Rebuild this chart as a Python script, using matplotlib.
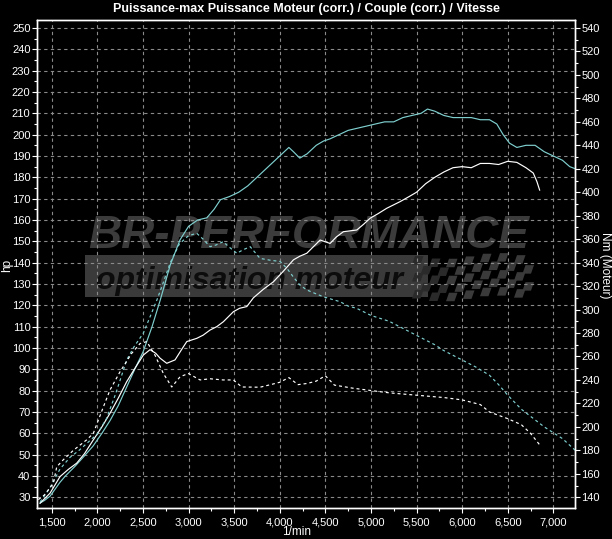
import numpy as np
import matplotlib
matplotlib.use("Agg")
import matplotlib.pyplot as plt
from matplotlib.patches import Polygon
from matplotlib.ticker import MultipleLocator, FuncFormatter

# figure size in pixels
W, H = 612, 539

# --- data ---
# run A (cyan): power in hp
rpm_pow_a = [1372, 1420, 1481, 1540, 1590, 1650, 1755, 1850, 1953, 2050, 2140, 2230, 2325, 2410,
             2500, 2600, 2690, 2800, 2907, 3000, 3100, 3200, 3280, 3350, 3450, 3550, 3650, 3750,
             3850, 3950, 4050, 4100, 4150, 4220, 4300, 4400, 4480, 4550, 4650, 4750, 4850, 4950,
             5050, 5150, 5250, 5350, 5450, 5550, 5620, 5700, 5800, 5900, 6000, 6100, 6200, 6300,
             6380, 6450, 6520, 6600, 6700, 6800, 6900, 7000, 7100, 7180, 7241]
hp_a = [27.3, 28.5, 30.5, 34, 37, 40, 44.5, 49, 54, 60, 66, 73, 82, 90,
        98, 110, 122.5, 139, 150.7, 157, 160, 161, 165, 169.5, 171, 173, 176, 180,
        184, 188, 192, 194, 192, 189, 191, 195, 197, 198, 200, 202, 203, 204,
        205, 206, 206, 208, 209, 210, 212, 211, 209, 208, 208, 208, 207, 207,
        205, 200, 196, 194, 195, 195, 192, 190, 188, 185, 184]

# run A (cyan dashed): torque in Nm
rpm_trq_a = [1372, 1480, 1590, 1700, 1800, 1900, 2000, 2100, 2200, 2322, 2400, 2505, 2600, 2652,
             2700, 2800, 2900, 3000, 3090, 3160, 3236, 3300, 3379, 3450, 3529, 3600, 3676, 3784,
             3900, 4004, 4080, 4147, 4220, 4297, 4380, 4475, 4560, 4662, 4750, 4845, 5000, 5200,
             5400, 5500, 5700, 5800, 6000, 6150, 6300, 6400, 6500, 6650, 6800, 6900, 7000, 7100,
             7241]
nm_a = [136, 148, 164, 174, 180, 187, 194, 207, 228, 257, 268, 280, 298, 308,
        318, 340, 356, 363, 365, 360, 353.6, 355, 357.8, 353, 348, 351, 353.6, 343.6,
        342, 341, 335, 328, 321, 316.7, 314, 311, 309, 306.7, 303, 301, 295, 290,
        282, 278, 270, 265, 257, 251, 244, 236, 227, 215, 206, 200, 195, 190,
        180]

# run B (white): power in hp
rpm_pow_b = [1372, 1481, 1591, 1680, 1774, 1860, 1956, 2050, 2139, 2230, 2322, 2420, 2505, 2578,
             2640, 2688, 2761, 2852, 2920, 2981, 3090, 3160, 3236, 3310, 3382, 3492, 3560, 3639,
             3711, 3820, 3930, 4040, 4150, 4220, 4297, 4370, 4443, 4552, 4620, 4698, 4845, 4920,
             4991, 5080, 5174, 5320, 5420, 5500, 5600, 5700, 5800, 5900, 6000, 6100, 6200, 6300,
             6400, 6500, 6600, 6700, 6780, 6820, 6850]
hp_b = [27.2, 31.9, 39.7, 43, 46, 50.5, 56.9, 63, 69.4, 76.5, 84.2, 91, 96.7, 99.2,
        97.5, 95.2, 92.8, 94.4, 99, 103, 104.5, 106, 108.4, 110, 112.3, 117, 118.6, 119.4,
        123.5, 127.5, 131, 136, 141.3, 143, 144.4, 147.5, 150.6, 149, 152, 154.5, 155.3, 158,
        160.8, 163, 165.5, 168.6, 171, 173, 177, 180, 182.5, 184.5, 185, 184.5, 186.5, 186.5,
        186, 187.5, 187, 184.5, 182, 178, 174]

# run B (white dashed): torque in Nm
rpm_trq_b = [1353, 1420, 1518, 1555, 1627, 1737, 1884, 1956, 2066, 2139, 2249, 2377, 2468, 2542,
             2633, 2724, 2816, 2907, 2998, 3126, 3236, 3380, 3492, 3584, 3784, 3900, 4000, 4100,
             4200, 4300, 4400, 4500, 4600, 4800, 5000, 5200, 5500, 5800, 6000, 6200, 6300, 6500,
             6650, 6750, 6850]
nm_b = [138, 142, 152, 166, 172, 180, 189, 194.5, 217, 231.5, 247, 262.7, 271, 272.7,
        261, 245.5, 234, 242.7, 245.5, 240, 241, 240, 240, 234, 233.8, 236, 238, 242,
        236, 237, 239, 243.6, 235.6, 233, 231, 229, 227, 225, 223, 219, 212.7, 207,
        201.8, 194.5, 184.7]

title = "Puissance-max Puissance Moteur (corr.) / Couple (corr.) / Vitesse"

# axis ranges (hp axis and Nm axis share the same pixels)
hp_lim = (25.2, 253.75)
def hp_to_nm(v):
    return 140 + (v - 30) * 400.0 / 220.0
nm_lim = (hp_to_nm(hp_lim[0]), hp_to_nm(hp_lim[1]))
rpm_lim = (1335, 7241)

CYAN = "#7fcfcf"
GRID = "#8a8a8a"
plt.rcParams['font.family'] = ['Liberation Sans', 'DejaVu Sans']

fig = plt.figure(figsize=(W / 100, H / 100), dpi=100, facecolor="black")
ax = fig.add_axes([36.7 / W, 1 - 507.5 / H, (575.3 - 36.7) / W, (507.5 - 20) / H])
ax.set_facecolor("black")
ax2 = ax.twinx()

def fpx(x, y):
    return (x / W, 1 - y / H)

# --- watermark (behind grid) ---
ax.text(*fpx(88, 248), "BR-PERFORMANCE", transform=fig.transFigure, fontsize=33,
        fontweight="heavy", style="italic", color="#3b3b3b",
        ha="left", va="baseline", zorder=0.2)
band = Polygon([fpx(85, 255), fpx(428, 255), fpx(428, 297), fpx(85, 297)], closed=True,
               transform=fig.transFigure, facecolor="#3a3a3a", edgecolor="none", zorder=0.2)
ax.add_patch(band)
ax.text(*fpx(96, 289), "optimisation moteur", transform=fig.transFigure, fontsize=23,
        fontweight="bold", style="italic", color="#0c0c0c",
        ha="left", va="baseline", zorder=0.25)
# checkered flag
sq = 8.5
for i in range(14):
    for j in range(5):
        if (i + j) % 2:
            continue
        x0 = 412 + i * sq
        wave = 3 * np.sin(i * 0.5)
        y0 = 256 + j * sq + wave
        sk = 3
        pts = [fpx(x0 + sk, y0), fpx(x0 + sq + sk, y0), fpx(x0 + sq, y0 + sq), fpx(x0, y0 + sq)]
        shade = "#3a3a3a" if i > 3 else "#2a2a2a"
        ax.add_patch(Polygon(pts, closed=True, transform=fig.transFigure,
                             facecolor=shade, edgecolor="none", zorder=0.22))

# --- curves ---
ax.plot(rpm_pow_a, hp_a, color=CYAN, lw=0.85, zorder=3)
ax.plot(rpm_pow_b, hp_b, color="white", lw=0.85, zorder=3)
ax2.plot(rpm_trq_a, nm_a, color=CYAN, lw=0.85, ls=(0, (2.5, 2.5)))
ax2.plot(rpm_trq_b, nm_b, color="white", lw=0.85, ls=(0, (2.5, 2.5)))

ax.set_xlim(*rpm_lim)
ax.set_ylim(*hp_lim)
ax2.set_ylim(*nm_lim)

ax.set_axisbelow(True)
ax.xaxis.set_major_locator(MultipleLocator(500))
ax.xaxis.set_minor_locator(MultipleLocator(250))
ax.yaxis.set_major_locator(MultipleLocator(10))
ax.yaxis.set_minor_locator(MultipleLocator(5))
ax2.yaxis.set_major_locator(MultipleLocator(20))
ax2.yaxis.set_minor_locator(MultipleLocator(10))
ax.xaxis.set_major_formatter(FuncFormatter(lambda v, p: "{:,.0f}".format(v)))
ax.grid(True, which="major", color=GRID, lw=0.8, ls=(0, (3, 3)))

for a in (ax, ax2):
    for s in a.spines.values():
        s.set_color("white")
        s.set_linewidth(1.0)
    a.tick_params(which="both", colors="white", labelsize=8, direction="out")
    a.tick_params(which="major", length=3.5, width=0.8, pad=1)
    a.tick_params(which="minor", length=2, width=0.8)
ax.tick_params(axis="x", pad=4)

# axis titles at fixed pixel spots, as on the sheet
fig.text(*fpx(7, 265), "hp", color="white", fontsize=8.5, rotation=90, ha="center", va="center")
fig.text(*fpx(605, 265), "Nm (Moteur)", color="white", fontsize=8.5, rotation=270,
         ha="center", va="center")
fig.text(*fpx(297, 532), "1/min", color="white", fontsize=8.5, ha="center", va="center")
fig.text(*fpx(306, 9), title, color="white", fontsize=9, fontweight="bold",
         ha="center", va="center")

fig.savefig("out.png", dpi=100, facecolor="black")
